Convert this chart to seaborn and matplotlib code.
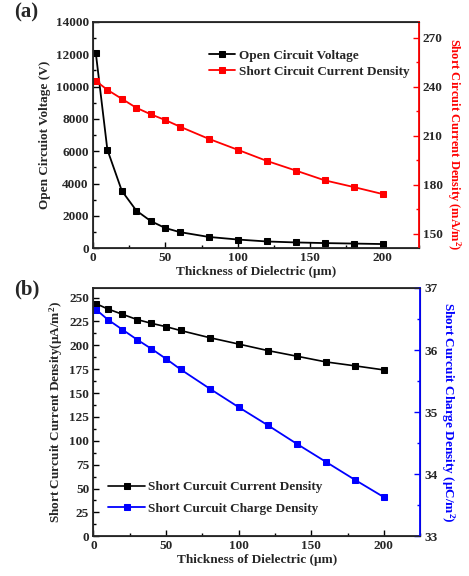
import pandas as pd
import matplotlib.pyplot as plt
import seaborn as sns
from matplotlib.ticker import MultipleLocator

thickness = [2, 10, 20, 30, 40, 50, 60, 80, 100, 120, 140, 160, 180, 200]
voc = [12100, 6100, 3550, 2330, 1680, 1250, 1000, 700, 540, 420, 360, 320, 290, 260]
jsc = [243.5, 238, 232.5, 227, 223, 219.5, 215.5, 208, 201.3, 194.5, 188.6, 182.6, 178.5, 174.2]
qsc = [36.65, 36.49, 36.33, 36.17, 36.02, 35.86, 35.69, 35.38, 35.08, 34.79, 34.49, 34.2, 33.91, 33.63]

df = pd.DataFrame({'t': thickness, 'voc': voc, 'jsc': jsc, 'qsc': qsc})

sns.set_style('ticks')
plt.rcParams['font.family'] = ['Liberation Serif', 'DejaVu Serif']
plt.rcParams['font.weight'] = 'bold'
plt.rcParams['axes.labelweight'] = 'bold'
plt.rcParams['mathtext.fontset'] = 'custom'
plt.rcParams['mathtext.rm'] = 'Liberation Serif:bold'
plt.rcParams['mathtext.bf'] = 'Liberation Serif:bold'
plt.rcParams['mathtext.default'] = 'bf'

fs = 9.5
lfs = 9.5
fig = plt.figure(figsize=(4.69, 5.76), dpi=100)
ax1 = fig.add_axes([0.198, 0.569, 0.695, 0.393])
ax3 = fig.add_axes([0.199, 0.069, 0.697, 0.431])


def style_axis(ax, color='black'):
    ax.tick_params(axis='both', which='both', direction='in', labelsize=fs, width=1, color=color, pad=3)
    ax.tick_params(which='major', length=4)
    ax.tick_params(which='minor', length=2)
    for lab in ax.get_xticklabels() + ax.get_yticklabels():
        lab.set_fontweight('bold')


# ---- panel (a)
ax2 = ax1.twinx()
sns.lineplot(data=df, x='t', y='voc', ax=ax1, color='black', marker='s', markersize=4.5,
             markeredgecolor='black', linewidth=1.3, label='Open Circuit Voltage', legend=False)
sns.lineplot(data=df, x='t', y='jsc', ax=ax2, color='red', marker='s', markersize=4.5,
             markeredgecolor='red', linewidth=1.3, label='Short Circuit Current Density', legend=False)
ax1.set_xlim(0, 225)
ax1.set_ylim(0, 14000)
ax2.set_ylim(141, 279.6)
ax1.xaxis.set_major_locator(MultipleLocator(50))
ax1.xaxis.set_minor_locator(MultipleLocator(25))
ax1.yaxis.set_major_locator(MultipleLocator(2000))
ax1.yaxis.set_minor_locator(MultipleLocator(1000))
ax2.yaxis.set_major_locator(MultipleLocator(30))
ax2.yaxis.set_minor_locator(MultipleLocator(15))
style_axis(ax1)
style_axis(ax2, 'red')
ax2.spines['right'].set_color('red')
ax2.spines['right'].set_linewidth(1.3)
for s in ['left', 'bottom', 'top']:
    ax1.spines[s].set_linewidth(1.3)
ax1.set_xlabel('Thickness of Dielectric (μm)', fontsize=9.5, labelpad=1)
ax1.set_ylabel('Open Circuiot Voltage (V)', fontsize=9.5, labelpad=3)
ax2.set_ylabel('Short Circuit Current Density (mA/m$^2$)', fontsize=9, color='red',
               rotation=270, labelpad=14)
ax2.yaxis.label.set_y(0.46)
h1, l1 = ax1.get_legend_handles_labels()
h2, l2 = ax2.get_legend_handles_labels()
ax1.legend(h1 + h2, l1 + l2, loc='upper left', bbox_to_anchor=(0.32, 0.93), frameon=False,
           handlelength=2.0, handletextpad=0.3, labelspacing=0.3,
           prop={'weight': 'bold', 'size': lfs})

# ---- panel (b)
ax4 = ax3.twinx()
sns.lineplot(data=df, x='t', y='jsc', ax=ax3, color='black', marker='s', markersize=4.5,
             markeredgecolor='black', linewidth=1.2, label='Short Curcuit Current Density', legend=False)
sns.lineplot(data=df, x='t', y='qsc', ax=ax4, color='blue', marker='s', markersize=4.5,
             markeredgecolor='blue', linewidth=1.3, label='Short Curcuit Charge Density', legend=False)
ax3.set_xlim(0, 225)
ax3.set_ylim(0, 260)
ax4.set_ylim(33, 37)
ax3.xaxis.set_major_locator(MultipleLocator(50))
ax3.xaxis.set_minor_locator(MultipleLocator(25))
ax3.yaxis.set_major_locator(MultipleLocator(25))
ax3.yaxis.set_minor_locator(MultipleLocator(12.5))
ax4.yaxis.set_major_locator(MultipleLocator(1))
ax4.yaxis.set_minor_locator(MultipleLocator(0.5))
style_axis(ax3)
style_axis(ax4, 'blue')
ax4.spines['right'].set_color('blue')
ax4.spines['right'].set_linewidth(1.3)
for s in ['left', 'bottom', 'top']:
    ax3.spines[s].set_linewidth(1.3)
ax3.set_xlabel('Thickness of Dielectric (μm)', fontsize=9.5, labelpad=1)
ax3.set_ylabel('Short Curcuit Current Density(μA/m$^2$)', fontsize=9.5, labelpad=3)
ax4.set_ylabel('Short Curcuit Charge Density (μC/m$^2$)', fontsize=9.5, color='blue',
               rotation=270, labelpad=14)
h3, l3 = ax3.get_legend_handles_labels()
h4, l4 = ax4.get_legend_handles_labels()
ax3.legend(h3 + h4, l3 + l4, loc='upper left', bbox_to_anchor=(0.01, 0.27), frameon=False,
           handlelength=2.8, handletextpad=0.2, labelspacing=0.7,
           prop={'weight': 'bold', 'size': lfs})

fig.text(0.03, 0.978, '(a)', fontsize=15, fontweight='bold', va='center')
fig.text(0.03, 0.497, '(b)', fontsize=15, fontweight='bold', va='center')

fig.savefig('out.png', dpi=100)
